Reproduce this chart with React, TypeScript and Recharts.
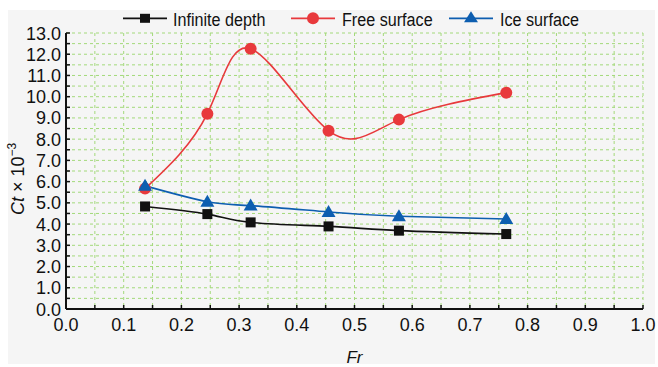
import React from 'react';
import { LineChart, Line, XAxis, YAxis, CartesianGrid, Legend } from 'recharts';

const frValues = [0.137, 0.245, 0.32, 0.455, 0.577, 0.763];
const infiniteDepth = [4.83, 4.47, 4.08, 3.89, 3.69, 3.53];
const freeSurface = [5.67, 9.2, 12.26, 8.4, 8.92, 10.19];
const iceSurface = [5.8, 5.05, 4.87, 4.57, 4.37, 4.24];
const xTicks = [0, 0.05, 0.1, 0.15, 0.2, 0.25, 0.3, 0.35, 0.4, 0.45, 0.5, 0.55, 0.6, 0.65, 0.7, 0.75, 0.8, 0.85, 0.9, 0.95, 1.0];
const yTicks = [0, 0.5, 1, 1.5, 2, 2.5, 3, 3.5, 4, 4.5, 5, 5.5, 6, 6.5, 7, 7.5, 8, 8.5, 9, 9.5, 10, 10.5, 11, 11.5, 12, 12.5, 13];
const seriesNames = ['Infinite depth', 'Free surface', 'Ice surface'];
const xLabel = 'Fr';

const data = frValues.map((fr, i) => ({
  fr,
  inf: infiniteDepth[i],
  free: freeSurface[i],
  ice: iceSurface[i],
}));

const FONT = '"Liberation Sans", Arial, sans-serif';
const BLACK = '#111111';
const RED = '#e8393c';
const BLUE = '#0d5eb0';

const isMajor = (v: number, step: number) => Math.abs(v / step - Math.round(v / step)) < 1e-6;

const SquareDot = (p: any) => {
  const { cx, cy } = p;
  if (cx == null || cy == null) return null;
  return <rect x={cx - 5} y={cy - 5} width={10} height={10} fill={BLACK} />;
};
const CircleDot = (p: any) => {
  const { cx, cy } = p;
  if (cx == null || cy == null) return null;
  return <circle cx={cx} cy={cy} r={6} fill={RED} />;
};
const TriDot = (p: any) => {
  const { cx, cy } = p;
  if (cx == null || cy == null) return null;
  return <polygon points={`${cx},${cy - 7} ${cx - 7},${cy + 5} ${cx + 7},${cy + 5}`} fill={BLUE} />;
};

const XTick = (p: any) => {
  const { x, y, payload } = p;
  const v = payload.value;
  const major = isMajor(v, 0.1);
  return (
    <g>
      <line x1={x} x2={x} y1={y} y2={y - 4} stroke={BLACK} strokeWidth={1.5} />
      {major && (
        <text x={x} y={y + 22} textAnchor="middle" fontSize={18} fontFamily={FONT} fill="#111">
          {v.toFixed(1)}
        </text>
      )}
    </g>
  );
};

const YTick = (p: any) => {
  const { x, y, payload } = p;
  const v = payload.value;
  const major = isMajor(v, 1);
  const ax = x + 5;
  return (
    <g>
      <line x1={ax} x2={ax + 4} y1={y} y2={y} stroke={BLACK} strokeWidth={1.5} />
      {major && (
        <text x={x} y={y + 6.5} textAnchor="end" fontSize={18} fontFamily={FONT} fill="#111">
          {v.toFixed(1)}
        </text>
      )}
    </g>
  );
};

const YLabel = (p: any) => {
  const vb = p.viewBox || {};
  const cy = vb.y + vb.height / 2 + 8;
  const cx = 24;
  return (
    <text
      x={cx}
      y={cy}
      transform={`rotate(-90, ${cx}, ${cy})`}
      textAnchor="middle"
      fontSize={18}
      fontFamily={FONT}
      fill="#111"
    >
      <tspan fontStyle="italic">Ct</tspan>
      <tspan> × 10</tspan>
      <tspan dy={-8} fontSize={12}>−3</tspan>
    </text>
  );
};

const XLabel = (p: any) => {
  const vb = p.viewBox || {};
  const cx = vb.x + vb.width / 2;
  return (
    <text x={cx} y={363} textAnchor="middle" fontSize={17} fontStyle="italic" fontFamily={FONT} fill="#111">
      {xLabel}
    </text>
  );
};

const legendItems = [
  { name: seriesNames[0], lineX: 123, lineX2: 167, textX: 173, marker: 'square', color: BLACK },
  { name: seriesNames[1], lineX: 291, lineX2: 335, textX: 342, marker: 'circle', color: RED },
  { name: seriesNames[2], lineX: 449, lineX2: 493, textX: 500, marker: 'tri', color: BLUE },
];

const LegendContent = () => {
  const ly = 12.3;
  const by = 19.7;
  return (
    <svg width={658} height={27} style={{ display: 'block' }}>
      {legendItems.map((it) => {
        const mx = (it.lineX + it.lineX2) / 2;
        return (
          <g key={it.name}>
            <line x1={it.lineX} x2={it.lineX2} y1={ly} y2={ly} stroke={it.color} strokeWidth={1.8} />
            {it.marker === 'square' && <rect x={mx - 5} y={ly - 4.5} width={10} height={9} fill={it.color} />}
            {it.marker === 'circle' && <circle cx={mx} cy={ly} r={6} fill={it.color} />}
            {it.marker === 'tri' && (
              <polygon points={`${mx},${ly - 7} ${mx - 7},${ly + 4} ${mx + 7},${ly + 4}`} fill={it.color} />
            )}
            <text
              transform={`translate(${it.textX}, ${by}) scale(0.85, 1)`}
              x={0}
              y={0}
              fontSize={19}
              fontFamily={FONT}
              fill="#111"
            >
              {it.name}
            </text>
          </g>
        );
      })}
    </svg>
  );
};

export default function App() {
  return (
    <div style={{ position: 'fixed', left: 0, top: 0, width: 658, height: 367, background: '#ffffff' }}>
      <div style={{ position: 'absolute', left: 8, top: 10, width: 647, height: 354, background: '#f5f5f5' }} />
      <div style={{ position: 'absolute', left: 0, top: 0 }}>
        <LineChart width={658} height={367} data={data} margin={{ top: 6, right: 15, bottom: 0, left: 0 }}>
          <Legend verticalAlign="top" align="left" content={<LegendContent />} />
          <CartesianGrid stroke="#a3d97a" strokeDasharray="3 3" strokeWidth={1} />
          <XAxis
            dataKey="fr"
            type="number"
            domain={[0, 1]}
            ticks={xTicks}
            interval={0}
            tickSize={0}
            tickMargin={0}
            height={58}
            tick={<XTick />}
            tickLine={false}
            axisLine={{ stroke: BLACK, strokeWidth: 2 }}
            label={<XLabel />}
          />
          <XAxis
            xAxisId="top"
            orientation="top"
            type="number"
            domain={[0, 1]}
            height={0}
            tick={false}
            tickLine={false}
            axisLine={{ stroke: '#222', strokeWidth: 2 }}
          />
          <YAxis
            type="number"
            domain={[0, 13]}
            ticks={yTicks}
            interval={0}
            tickSize={0}
            tickMargin={5}
            width={66}
            tick={<YTick />}
            tickLine={false}
            axisLine={{ stroke: BLACK, strokeWidth: 2 }}
            label={<YLabel />}
          />
          <YAxis
            yAxisId="right"
            orientation="right"
            type="number"
            domain={[0, 13]}
            width={0}
            tick={false}
            tickLine={false}
            axisLine={{ stroke: '#222', strokeWidth: 2 }}
          />
          <Line
            type="natural"
            dataKey="inf"
            name={seriesNames[0]}
            stroke={BLACK}
            strokeWidth={1.6}
            dot={<SquareDot />}
            activeDot={false}
            isAnimationActive={false}
          />
          <Line
            type="natural"
            dataKey="free"
            name={seriesNames[1]}
            stroke={RED}
            strokeWidth={1.6}
            dot={<CircleDot />}
            activeDot={false}
            isAnimationActive={false}
          />
          <Line
            type="natural"
            dataKey="ice"
            name={seriesNames[2]}
            stroke={BLUE}
            strokeWidth={1.6}
            dot={<TriDot />}
            activeDot={false}
            isAnimationActive={false}
          />
        </LineChart>
      </div>
    </div>
  );
}
